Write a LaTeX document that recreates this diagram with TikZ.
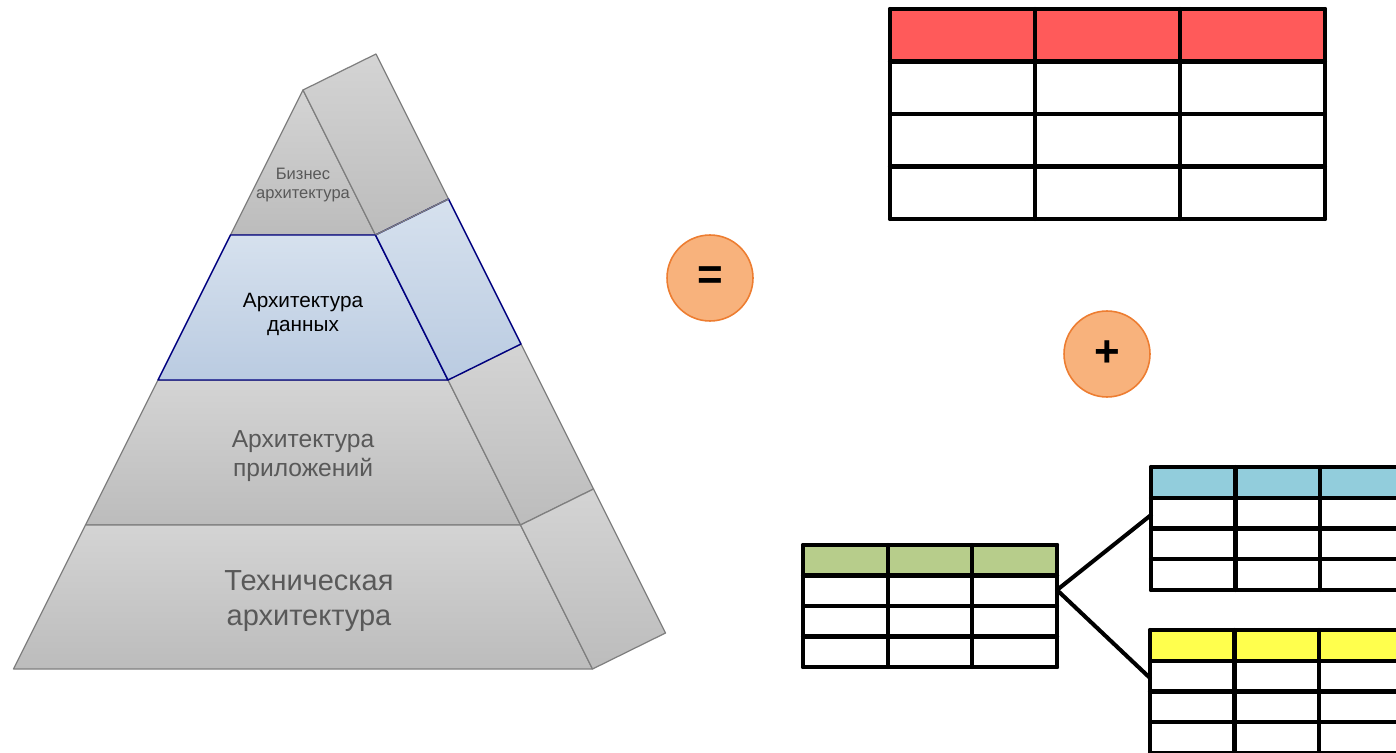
\documentclass[tikz,border=0pt]{standalone}
\usepackage{fontspec}
\setmainfont{Liberation Sans}
\definecolor{gtop}{HTML}{D4D4D4}
\definecolor{gbot}{HTML}{BCBCBC}
\definecolor{gedge}{HTML}{7F7F7F}
\definecolor{btop}{HTML}{D6E1EE}
\definecolor{bbot}{HTML}{BACBE1}
\definecolor{bedge}{HTML}{00007F}
\definecolor{gtext}{HTML}{595959}
\definecolor{cfill}{HTML}{F8B27C}
\definecolor{cedge}{HTML}{ED7D31}
\definecolor{hred}{HTML}{FF5A5A}
\definecolor{hblue}{HTML}{92CDDC}
\definecolor{hyellow}{HTML}{FFFF4D}
\definecolor{hgreen}{HTML}{B7CD8B}
\tikzset{
  greyface/.style={top color=gtop, bottom color=gbot, draw=gedge, line width=0.7pt, line join=round},
  blueface/.style={top color=btop, bottom color=bbot, draw=bedge, line width=0.8pt, line join=round},
  opcircle/.style={circle, fill=cfill, draw=cedge, line width=0.9pt, minimum size=1.72cm, inner sep=0pt, font=\bfseries\fontsize{25}{25}\selectfont},
  tblline/.style={line width=2.3pt, line join=round, line cap=round},
  connector/.style={line width=2.3pt, line cap=round},
  lvltext/.style={align=center, text=gtext, inner sep=0pt}
}
% #1 name, #2 x0, #3 y0, #4 col width, #5 row height, #6 header colour
\newcommand\drawtable[6]{%
  \fill[#6] (#2,#3) rectangle ++(3*#4,#5);
  \fill[white] (#2,#3+#5) rectangle ++(3*#4,3*#5);
  \node[inner sep=0pt, minimum width=3*#4*0.02cm, minimum height=4*#5*0.02cm, anchor=north west] (#1) at (#2,#3) {};
  \foreach \i in {0,...,4} {\draw[tblline] (#2,#3+\i*#5) -- ++(3*#4,0);}
  \foreach \j in {0,...,3} {\draw[tblline] (#2+\j*#4,#3) -- ++(0,4*#5);}
}
\begin{document}
\begin{tikzpicture}[x=0.02cm, y=-0.02cm]
\useasboundingbox (0,0) rectangle (1396,753);
\clip (0,0) rectangle (1396,753);
% pyramid coordinates
\coordinate (A) at (303,90);
\coordinate (B) at (376,54);
\coordinate (L1) at (230.5,235); \coordinate (R1) at (375.5,235); \coordinate (S1) at (448.5,199);
\coordinate (L2) at (158,380);   \coordinate (R2) at (448,380);   \coordinate (S2) at (521,344);
\coordinate (L3) at (85.5,525);  \coordinate (R3) at (520.5,525); \coordinate (S3) at (593.5,489);
\coordinate (L4) at (13.5,669);  \coordinate (R4) at (592.5,669); \coordinate (S4) at (665.5,633);
% top level
\path[greyface] (A) -- (R1) -- (L1) -- cycle;
\path[greyface] (A) -- (B) -- (S1) -- (R1) -- cycle;
% applications level
\path[greyface] (L2) -- (R2) -- (R3) -- (L3) -- cycle;
\path[greyface] (R2) -- (S2) -- (S3) -- (R3) -- cycle;
% technical level
\path[greyface] (L3) -- (R3) -- (R4) -- (L4) -- cycle;
\path[greyface] (R3) -- (S3) -- (S4) -- (R4) -- cycle;
% data level
\path[blueface] (L1) -- (R1) -- (R2) -- (L2) -- cycle;
\path[blueface] (R1) -- (S1) -- (S2) -- (R2) -- cycle;
\draw[gedge, line width=0.7pt] (R1) -- (S1);
% texts
\node[lvltext, font=\fontsize{9.4}{11.3}\selectfont] (biz) at (303,185) {Бизнес\\архитектура};
\node[lvltext, text=black, font=\fontsize{11.8}{13.6}\selectfont] (data) at (303,314) {Архитектура\\данных};
\node[lvltext, font=\fontsize{14}{16.4}\selectfont] (apps) at (303,456) {Архитектура\\приложений};
\node[lvltext, font=\fontsize{16.5}{19.8}\selectfont] (tech) at (309,601) {Техническая\\архитектура};
% operators
\node[opcircle] (eq) at (710,278) {=};
\node[opcircle] (plus) at (1107,354) {+};
% tables
\drawtable{tred}{890}{9}{145}{52.5}{hred}
\drawtable{tblue}{1151}{467}{84.5}{30.75}{hblue}
\drawtable{tyellow}{1150}{630}{84.5}{30.75}{hyellow}
\drawtable{tgreen}{803}{545}{84.7}{30.5}{hgreen}
% connectors
\coordinate (gj) at (1057,590);
\coordinate (bj) at (1151,515);
\coordinate (yj) at (1150,678);
\draw[connector] (gj) -- (bj);
\draw[connector] (gj) -- (yj);
\end{tikzpicture}
\end{document}
